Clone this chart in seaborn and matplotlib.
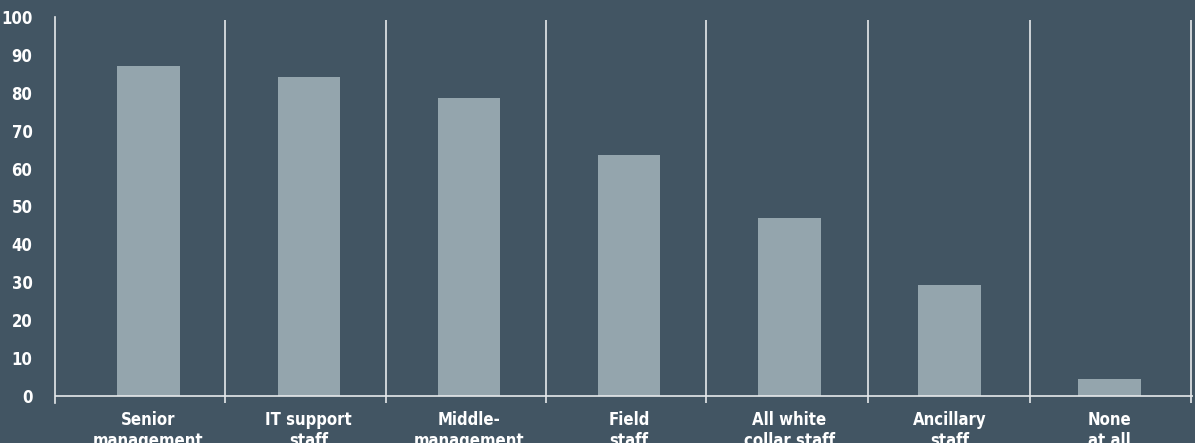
import matplotlib
matplotlib.use("Agg")
import matplotlib.pyplot as plt
import seaborn as sns
import pandas as pd

categories = ["Senior\nmanagement", "IT support\nstaff", "Middle-\nmanagement",
              "Field\nstaff", "All white\ncollar staff", "Ancillary\nstaff", "None\nat all"]
values = [87.1, 84.2, 78.6, 63.6, 47.0, 29.3, 4.5]
yticks = [0, 10, 20, 30, 40, 50, 60, 70, 80, 90, 100]

BG = "#425563"
BAR = "#94a5ad"
LINE = "#e6e9eb"
TXT = "#ffffff"

sns.set_theme(style="white")
plt.rcParams['font.family'] = ['DejaVu Sans']
plt.rcParams['font.weight'] = 'bold'
plt.rcParams['font.stretch'] = 'condensed'

df = pd.DataFrame({"cat": categories, "val": values})

fig = plt.figure(figsize=(11.95, 4.43), dpi=100, facecolor=BG)
ax = fig.add_axes([55/1195, (443-403)/443, (1193-55)/1195, (403-17)/443])
ax.set_facecolor(BG)

sns.barplot(data=df, x="cat", y="val", color=BAR, saturation=1, width=0.39,
            linewidth=0, edgecolor=BAR, ax=ax, zorder=2)

ax.set_xlim(-0.584, 6.52)
ax.set_ylim(-1.85, 100)

for s in ["top", "right", "bottom"]:
    ax.spines[s].set_visible(False)
ax.spines["left"].set_color(LINE)
ax.spines["left"].set_linewidth(1.2)

# x axis line at zero
ax.axhline(0, color=LINE, lw=1.2, zorder=3)
# separators between categories
for b in [0.48, 1.485, 2.48, 3.48, 4.49, 5.5, 6.51]:
    ax.vlines(b, -1.85, 99.2, color=LINE, lw=1.2, zorder=3)

ax.set_yticks(yticks)
ax.set_yticklabels([str(t) for t in yticks])
ax.tick_params(axis="y", length=7.2, width=1.2, color=LINE, pad=9, labelsize=12, labelcolor=TXT)
ax.tick_params(axis="x", length=0, pad=6, labelsize=12, labelcolor=TXT)
for lab in ax.get_xticklabels() + ax.get_yticklabels():
    lab.set_linespacing(1.2)
    lab.set_fontweight('bold')
    lab.set_fontstretch('condensed')
ax.set_xlabel("")
ax.set_ylabel("")

fig.savefig("out.png", dpi=100, facecolor=BG)
